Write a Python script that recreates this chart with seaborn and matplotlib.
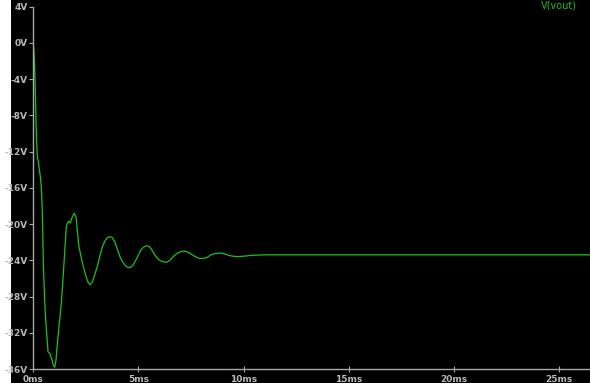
import matplotlib
matplotlib.use("Agg")
import matplotlib.pyplot as plt
from matplotlib.patches import Rectangle
import seaborn as sns
import pandas as pd

# Transient response of V(vout): time in ms, voltage in V
time_ms = [
    0.00, 0.03, 0.06, 0.08, 0.10, 0.13, 0.16, 0.19, 0.23, 0.28, 0.33, 0.38,
    0.42, 0.45, 0.48, 0.54, 0.60, 0.65, 0.70, 0.79, 0.89, 0.96, 1.02, 1.08,
    1.13, 1.22, 1.32, 1.40, 1.46, 1.52, 1.57, 1.62, 1.68, 1.75, 1.84, 1.94,
    2.03, 2.09, 2.17, 2.27, 2.38, 2.51, 2.60, 2.70, 2.80, 2.92, 3.05, 3.18,
    3.30, 3.42, 3.55, 3.65, 3.75, 3.88, 4.00, 4.12, 4.25, 4.38, 4.50, 4.60,
    4.72, 4.85, 4.98, 5.10, 5.22, 5.32, 5.41, 5.52, 5.65, 5.80, 5.95, 6.10,
    6.25, 6.36, 6.50, 6.65, 6.80, 6.95, 7.10, 7.21, 7.35, 7.50, 7.70, 7.90,
    8.07, 8.25, 8.45, 8.65, 8.88, 9.10, 9.35, 9.69, 10.0, 10.4, 11.0, 12.0,
    26.5,
]
vout_v = [
    0.0, -1.0, -2.5, -3.8, -5.7, -8.8, -11.0, -12.4, -13.0, -13.8, -14.7, -15.9,
    -18.0, -21.0, -24.7, -28.4, -30.9, -32.5, -34.1, -34.3, -35.0, -35.6, -35.8, -35.0,
    -33.6, -31.3, -29.1, -26.5, -24.3, -22.1, -20.3, -19.9, -19.7, -19.9, -19.3, -18.8,
    -19.2, -20.6, -22.5, -23.6, -24.7, -25.8, -26.4, -26.7, -26.4, -25.6, -24.6, -23.4,
    -22.4, -21.8, -21.45, -21.4, -21.5, -22.0, -22.8, -23.6, -24.2, -24.6, -24.8, -24.8,
    -24.6, -24.1, -23.5, -22.9, -22.6, -22.45, -22.4, -22.5, -22.9, -23.5, -23.9, -24.1,
    -24.2, -24.2, -24.0, -23.6, -23.3, -23.1, -23.0, -23.0, -23.1, -23.3, -23.6, -23.8,
    -23.8, -23.7, -23.4, -23.25, -23.2, -23.3, -23.5, -23.6, -23.55, -23.45, -23.4, -23.4,
    -23.4,
]

y_ticks = [4, 0, -4, -8, -12, -16, -20, -24, -28, -32, -36]
y_tick_labels = ["4V", "0V", "-4V", "-8V", "-12V", "-16V", "-20V", "-24V", "-28V", "-32V", "-36V"]
x_ticks = [0, 5, 10, 15, 20, 25]
x_tick_labels = ["0ms", "5ms", "10ms", "15ms", "20ms", "25ms"]
trace_name = "V(vout)"

df = pd.DataFrame({"t": time_ms, "v": vout_v})

W, H = 590, 383
fig = plt.figure(figsize=(W / 100, H / 100), dpi=100, facecolor="black")
fig.patches.append(Rectangle((0, 0), 11 / W, 1, transform=fig.transFigure,
                             facecolor="white", edgecolor="none", zorder=-1))

ax = fig.add_axes([33.3 / W, 14 / H, 1 - 33.3 / W, 362.4 / H])
ax.set_facecolor("black")

trace_color = "#1fc01f"
sns.lineplot(data=df, x="t", y="v", ax=ax, color=trace_color, linewidth=0.9,
             sort=False, estimator=None)

ax.set_xlim(0, 26.47)
ax.set_ylim(-36, 4)
ax.set_xticks(x_ticks)
ax.set_xticklabels(x_tick_labels)
ax.set_yticks(y_ticks)
ax.set_yticklabels(y_tick_labels)
ax.set_xlabel("")
ax.set_ylabel("")

axis_gray = "#a8a8a8"
for side in ("top", "right"):
    ax.spines[side].set_visible(False)
for side in ("left", "bottom"):
    ax.spines[side].set_color(axis_gray)
    ax.spines[side].set_linewidth(1.0)

ax.tick_params(axis="y", direction="out", length=3, width=0.8, color=axis_gray,
               labelcolor="#b8b8b8", labelsize=6.5, pad=1)
ax.tick_params(axis="x", direction="inout", length=4, width=0.8, color=axis_gray,
               labelcolor="#b8b8b8", labelsize=6.5, pad=2)
for lbl in ax.get_xticklabels() + ax.get_yticklabels():
    lbl.set_fontweight("bold")

# trace name in the top-right corner
fig.text(559 / W, 1.0 - 0.5 / H, trace_name, color=trace_color, fontsize=7,
         ha="center", va="top")

fig.savefig("out.png", dpi=100, facecolor=fig.get_facecolor())
